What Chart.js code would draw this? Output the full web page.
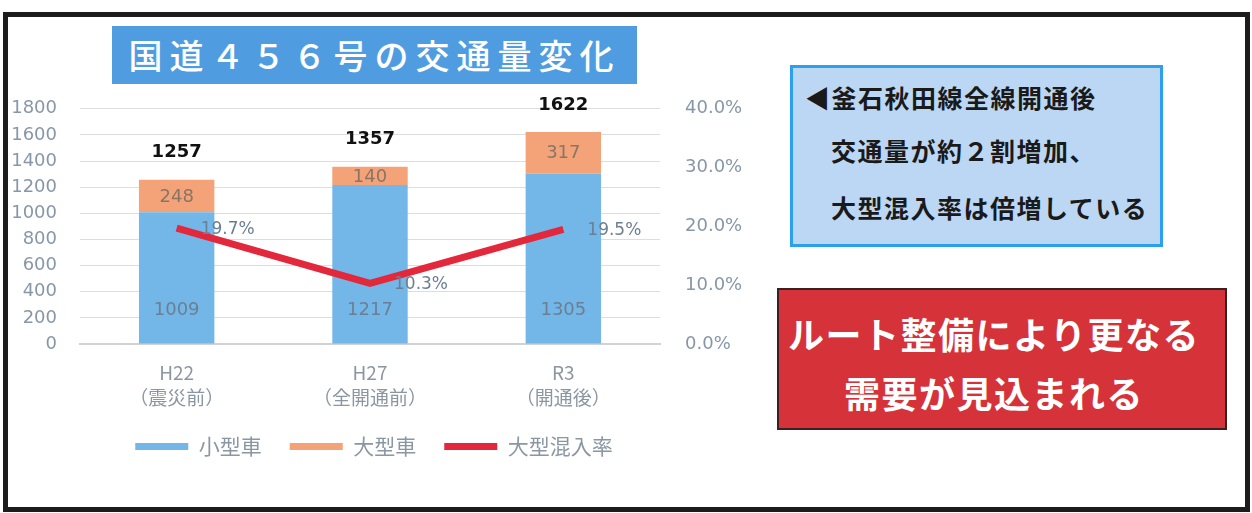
<!DOCTYPE html>
<html lang="ja">
<head>
<meta charset="utf-8">
<script src="https://cdn.jsdelivr.net/npm/chart.js@4.4.1/dist/chart.umd.min.js"></script>
<style>
  html, body { margin: 0; padding: 0; background: #fff; }
  body { width: 1252px; height: 513px; position: relative; overflow: hidden; font-family: "Noto Sans CJK JP", sans-serif; }
  #frame { position: absolute; left: 3px; top: 12px; width: 1237px; height: 490px; border: 5px solid #1c1c1c; }
  #title { position: absolute; left: 112px; top: 26px; width: 525px; height: 58px; background: #4f9de0;
           color: #fff; font-size: 34px; font-weight: 500; letter-spacing: 7px; line-height: 58px; text-align: center; }
  #chartBox { position: absolute; left: 0; top: 73px; width: 748px; height: 397px; }
  #note { position: absolute; left: 790px; top: 65px; width: 367px; height: 176px; background: #bcd7f3; border: 3px solid #2aa0ee; }
  #note div { position: absolute; font-size: 25px; font-weight: 700; color: #1a1a1a; line-height: 30px; letter-spacing: 1.5px; white-space: nowrap; }
  #claim { position: absolute; left: 777px; top: 288px; width: 446px; height: 138px; background: #d63239; border: 2px solid #3a2020; }
  #claim div { position: absolute; left: 0; width: 430px; text-align: center; font-size: 36px; font-weight: 700; color: #fff;
               line-height: 44px; letter-spacing: 1.5px; white-space: nowrap; }
</style>
</head>
<body>
<div id="frame"></div>
<div id="title">国道４５６号の交通量変化</div>
<div id="chartBox"><canvas id="trafficChart"></canvas></div>
<div id="note">
  <div style="left:12px; top:14px;">◀釜石秋田線全線開通後</div>
  <div style="left:38px; top:67px;">交通量が約２割増加、</div>
  <div style="left:38px; top:124px;">大型混入率は倍増している</div>
</div>
<div id="claim">
  <div style="top:21px;">ルート整備により更なる</div>
  <div style="top:80px;">需要が見込まれる</div>
</div>
<script>
// data
const categories = [['H22', '（震災前）'], ['H27', '（全開通前）'], ['R3', '（開通後）']];
const smallCars = [1009, 1217, 1305];   // 小型車
const largeCars = [248, 140, 317];      // 大型車
const totals = [1257, 1357, 1622];
const largeShare = [19.7, 10.3, 19.5];  // 大型混入率 (%)
const countAxis = { max: 1800, step: 200 };
const shareAxis = { max: 40, step: 10 };

const tickGrey = '#8797a8';

// value labels (Excel style data labels)
const valueLabels = {
    id: 'valueLabels',
    afterDatasetsDraw(chart) {
        const ctx = chart.ctx;
        const small = chart.getDatasetMeta(1).data;
        const large = chart.getDatasetMeta(2).data;
        const line = chart.getDatasetMeta(0).data;
        ctx.save();
        ctx.textAlign = 'center';
        ctx.textBaseline = 'middle';
        ctx.font = '18px "DejaVu Sans"';
        small.forEach((bar, i) => {
            ctx.fillStyle = '#6c7f92';
            ctx.fillText(smallCars[i], bar.x, bar.base - 33);
        });
        large.forEach((bar, i) => {
            ctx.fillStyle = '#8a7468';
            ctx.fillText(largeCars[i], bar.x, (bar.y + bar.base) / 2 + 1);
        });
        ctx.font = 'bold 18px "DejaVu Sans"';
        ctx.fillStyle = '#111';
        large.forEach((bar, i) => ctx.fillText(totals[i], bar.x, bar.y - 27));
        ctx.textAlign = 'left';
        ctx.font = '17px "DejaVu Sans"';
        ctx.fillStyle = '#6c7f92';
        line.forEach((pt, i) => ctx.fillText(largeShare[i].toFixed(1) + '%', pt.x + 24, pt.y + 1));
        ctx.restore();
    }
};

const trafficCtx = document.getElementById('trafficChart').getContext('2d');
new Chart(trafficCtx, {
    type: 'bar',
    data: {
        labels: categories,
        datasets: [{
            type: 'line',
            label: '大型混入率',
            data: largeShare,
            yAxisID: 'y1',
            borderColor: '#e3283c',
            backgroundColor: '#e3283c',
            borderWidth: 7,
            pointRadius: 0,
            tension: 0,
            order: 0
        }, {
            label: '小型車',
            data: smallCars,
            backgroundColor: '#72b7e8',
            barPercentage: 0.39,
            categoryPercentage: 1,
            order: 1
        }, {
            label: '大型車',
            data: largeCars,
            backgroundColor: '#f3a377',
            barPercentage: 0.39,
            categoryPercentage: 1,
            order: 1
        }]
    },
    options: {
        responsive: true,
        maintainAspectRatio: false,
        animation: false,
        layout: { padding: { top: 21, bottom: 3, left: 0, right: 0 } },
        plugins: {
            legend: {
                position: 'bottom',
                labels: {
                    boxWidth: 53,
                    boxHeight: 7,
                    padding: 28,
                    color: '#8a96a2',
                    font: { family: '"Noto Sans CJK JP"', size: 21 },
                    generateLabels(chart) {
                        const items = Chart.defaults.plugins.legend.labels.generateLabels(chart);
                        items.forEach(it => { it.lineWidth = 0; });
                        // order as on the slide: 小型車, 大型車, 大型混入率
                        return [items[1], items[2], items[0]];
                    }
                }
            },
            tooltip: { enabled: false }
        },
        scales: {
            x: {
                stacked: true,
                grid: { display: false },
                border: { display: true, color: '#cfd3d6', width: 2 },
                ticks: {
                    color: '#8a96a2',
                    padding: 8,
                    font: { family: '"Noto Sans CJK JP"', size: 19, lineHeight: 1.32 }
                },
                afterFit(scale) { scale.height = 64; }
            },
            y: {
                stacked: true,
                min: 0,
                max: countAxis.max,
                grid: { color: '#dddddd', lineWidth: 1, drawTicks: false },
                border: { display: false },
                ticks: {
                    stepSize: countAxis.step,
                    color: tickGrey,
                    padding: 23,
                    font: { family: '"DejaVu Sans"', size: 18 },
                    callback: v => String(v)
                },
                afterFit(scale) { scale.width = 80; }
            },
            y1: {
                position: 'right',
                min: 0,
                max: shareAxis.max,
                grid: { display: false, drawTicks: false },
                border: { display: false },
                ticks: {
                    stepSize: shareAxis.step,
                    color: tickGrey,
                    padding: 25,
                    font: { family: '"DejaVu Sans"', size: 18 },
                    callback: v => v.toFixed(1) + '%'
                },
                afterFit(scale) { scale.width = 88; }
            }
        }
    },
    plugins: [valueLabels]
});
</script>
</body>
</html>
